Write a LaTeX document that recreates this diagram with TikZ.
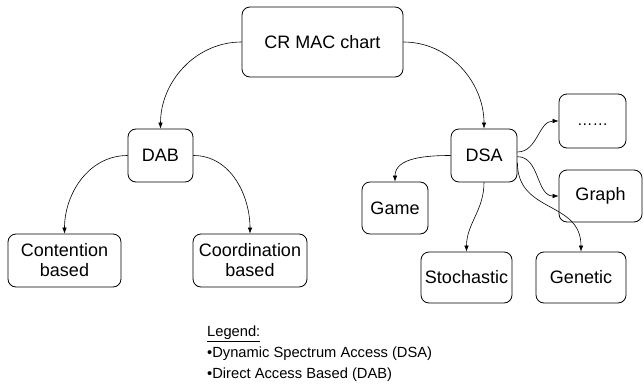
\documentclass[tikz,border=0pt]{standalone}
\usepackage{fontspec}
\setmainfont{Liberation Sans}
\usetikzlibrary{arrows.meta}

\begin{document}
\begin{tikzpicture}[x=1pt,y=-1pt,
    box/.style={draw,rounded corners=8pt,line width=0.8pt,inner sep=0pt,align=center,font=\fontsize{18}{20}\selectfont},
    link/.style={-{Latex[length=6pt,width=4.5pt]},line width=0.6pt}]
    \useasboundingbox (0,0) rectangle (644,385);

    \node[box,minimum width=161pt,minimum height=70pt](crmac) at (322.5,42){CR MAC chart};
    \node[box,minimum width=65pt,minimum height=53pt](dab) at (160.5,155.5){DAB};
    \node[box,minimum width=113pt,minimum height=53pt](contention) at (64.5,260.5){Contention\\based};
    \node[box,minimum width=114pt,minimum height=53pt](coordination) at (250,260.5){Coordination\\based};
    \node[box,minimum width=66pt,minimum height=53pt](dsa) at (484,155.5){DSA};
    \node[box,minimum width=67pt,minimum height=54pt,text height=12pt,text depth=4pt,font=\fontsize{15.5}{20}\selectfont](more) at (592.5,121){……};
    \node[box,minimum width=83pt,minimum height=52pt](graph) at (600.5,196){Graph};
    \node[box,minimum width=66pt,minimum height=52pt](game) at (395,208){Game};
    \node[box,minimum width=91pt,minimum height=51pt](stochastic) at (466.5,277.5){Stochastic};
    \node[box,minimum width=90pt,minimum height=51pt](genetic) at (581,277.5){Genetic};

    \draw[link](crmac.west) to[out=180,in=90] (dab.north);
    \draw[link](crmac.east) to[out=0,in=90] (dsa.north);
    \draw[link](dab.west) to[out=180,in=90] (contention.north);
    \draw[link](dab.east) to[out=0,in=90] (coordination.north);
    \draw[link](dsa.west) to[out=180,in=90] (game.north);
    \draw[link](dsa.south) to[out=-90,in=90] (stochastic.north);
    \draw[link](dsa.-12) to[out=-90,in=90,looseness=1.2] (genetic.north);
    \draw[link](dsa.6) to[out=0,in=180] (more.west);
    \draw[link](dsa.-2) to[out=0,in=180] (graph.west);

    \node[anchor=north west,inner sep=0pt,align=left,font=\fontsize{14.7}{21}\selectfont](legend) at (207,326){\underline{Legend:}\\•Dynamic Spectrum Access (DSA)\\•Direct Access Based (DAB)};
\end{tikzpicture}
\end{document}
